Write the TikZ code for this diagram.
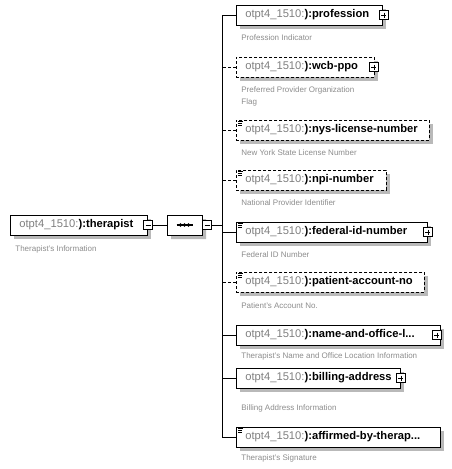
\documentclass[tikz,border=0pt]{standalone}
\usepackage{fontspec}
\setmainfont{Liberation Sans}
\usetikzlibrary{shapes.misc}
\definecolor{prefixgray}{RGB}{128,128,128}
\definecolor{descgray}{RGB}{140,140,140}
\definecolor{shadowgray}{RGB}{185,185,185}
\newcommand{\elname}[1]{\mbox{{\color{prefixgray}otpt4\_1510:}\textbf{):#1}}}

\begin{document}
\begin{tikzpicture}[x=1pt,y=-1pt,line width=0.8pt]
        %
        % `element' is a box of the schema, `optional' the dashed one.
        % `toggle' is the small plus/minus box, `desc' the grey note.
        % `shadowbox' is the grey copy that lies under a box.
        \tikzstyle{element} = [draw,fill=white,anchor=west,align=left,minimum height=20pt,inner xsep=9pt,inner ysep=0pt,font=\fontsize{11.2}{13}\selectfont]
        \tikzstyle{optional} = [element,dash pattern=on 3pt off 2pt]
        \tikzstyle{shadowbox} = [anchor=west,minimum height=20pt,inner xsep=9pt,inner ysep=0pt,font=\fontsize{11.2}{13}\selectfont,fill=shadowgray]
        \tikzstyle{typed} = [path picture={\draw[solid,line width=0.6pt] ([xshift=2pt,yshift=-1.5pt]path picture bounding box.north west) -- ++(5pt,0pt) ([xshift=2pt,yshift=-3.3pt]path picture bounding box.north west) -- ++(4pt,0pt) ([xshift=2pt,yshift=-5.1pt]path picture bounding box.north west) -- ++(4pt,0pt);}]
        \tikzstyle{toggle} = [draw,solid,fill=white,minimum size=9pt,inner sep=0pt,line width=0.6pt]
        \tikzstyle{expand} = [toggle,path picture={\draw[line width=0.6pt] ([xshift=2pt]path picture bounding box.west) -- ([xshift=-2pt]path picture bounding box.east) ([yshift=-2pt]path picture bounding box.north) -- ([yshift=2pt]path picture bounding box.south);}]
        \tikzstyle{collapse} = [toggle,path picture={\draw[line width=0.6pt] ([xshift=2pt]path picture bounding box.west) -- ([xshift=-2pt]path picture bounding box.east);}]
        \tikzstyle{desc} = [anchor=west,align=left,inner sep=0pt,text=descgray,font=\fontsize{8}{12}\selectfont]
        \tikzstyle{sequence} = [draw,fill=white,chamfered rectangle,chamfered rectangle sep=5pt,minimum width=35pt,minimum height=20pt,inner sep=0pt]
        %
        \useasboundingbox (0,0) rectangle (452,469);
        %
        % Shadows (drawn first)
        \node[shadowbox,text width=119pt] (rootshadow) at (14,229) {\phantom{\elname{therapist}}};
        \node[sequence,draw=none,fill=shadowgray] (seqshadow) at (188.5,229) {};
        \node[shadowbox,text width=128pt] (el1shadow) at (240,19) {\phantom{\elname{profession}}};
        \node[shadowbox,text width=120pt] (el2shadow) at (240,71) {\phantom{\elname{wcb-ppo}}};
        \node[shadowbox,text width=175pt] (el3shadow) at (240,134) {\phantom{\elname{nys-license-number}}};
        \node[shadowbox,text width=132pt] (el4shadow) at (240,184) {\phantom{\elname{npi-number}}};
        \node[shadowbox,text width=173pt] (el5shadow) at (240,236) {\phantom{\elname{federal-id-number}}};
        \node[shadowbox,text width=170pt] (el6shadow) at (240,286) {\phantom{\elname{patient-account-no}}};
        \node[shadowbox,text width=186pt] (el7shadow) at (240,339) {\phantom{\elname{name-and-office-l...}}};
        \node[shadowbox,text width=146pt] (el8shadow) at (240,382) {\phantom{\elname{billing-address}}};
        \node[shadowbox,text width=186pt] (el9shadow) at (240,441) {\phantom{\elname{affirmed-by-therap...}}};
        %
        % Root element
        \node[element,text width=119pt] (root) at (10,225) {\elname{therapist}};
        \node[collapse] (rootmin) at (148,225) {};
        \node[desc] (rootdesc) at (15,249) {Therapist's Information};
        %
        % Sequence
        \node[sequence] (seq) at (184.5,225) {};
        \draw (rootmin) -- (seq);
        \draw[line width=1.2pt] ([xshift=-8pt]seq.center) -- ([xshift=8pt]seq.center);
        \foreach \dx in {-4,0,4}
            \fill ([xshift=\dx pt]seq.center) circle (1.8pt);
        \node[collapse] (seqmin) at (207,225) {};
        \coordinate (seqout) at (222,225);
        \draw (seqmin) -- (seqout);
        %
        % Children
        \node[element,text width=128pt] (el1) at (236,15) {\elname{profession}};
        \node[expand] at ([xshift=1pt]el1.east) {};
        \node[desc] (desc1) at (241,38) {Profession Indicator};
        %
        \node[optional,text width=120pt] (el2) at (236,67) {\elname{wcb-ppo}};
        \node[expand] at ([xshift=-1pt]el2.east) {};
        \node[desc] (desc2) at (241,96) {Preferred Provider Organization\\Flag};
        %
        \node[optional,typed,text width=175pt] (el3) at (236,130) {\elname{nys-license-number}};
        \node[desc] (desc3) at (241,153) {New York State License Number};
        %
        \node[optional,typed,text width=132pt] (el4) at (236,180) {\elname{npi-number}};
        \node[desc] (desc4) at (241,203) {National Provider Identifier};
        %
        \node[element,typed,text width=173pt] (el5) at (236,232) {\elname{federal-id-number}};
        \node[expand] at ([xshift=0pt]el5.east) {};
        \node[desc] (desc5) at (241,255) {Federal ID Number};
        %
        \node[optional,typed,text width=170pt] (el6) at (236,282) {\elname{patient-account-no}};
        \node[desc] (desc6) at (241,306) {Patient's Account No.};
        %
        \node[element,text width=186pt] (el7) at (236,335) {\elname{name-and-office-l...}};
        \node[expand] at ([xshift=-4pt]el7.east) {};
        \node[desc] (desc7) at (241,356) {Therapist's Name and Office Location Information};
        %
        \node[element,text width=146pt] (el8) at (236,378) {\elname{billing-address}};
        \node[expand] at ([xshift=0pt]el8.east) {};
        \node[desc] (desc8) at (241,408) {Billing Address Information};
        %
        \node[element,typed,text width=186pt] (el9) at (236,437) {\elname{affirmed-by-therap...}};
        \node[desc] (desc9) at (241,458) {Therapist's Signature};
        %
        % Connectors
        \draw (el1.west -| seqout) -- (el9.west -| seqout);
        \foreach \n in {1,5,7,8,9}
            \draw (el\n.west) -- (el\n.west -| seqout);
        \foreach \n in {2,3,4,6}
            \draw[dash pattern=on 3pt off 2pt] (el\n.west) -- (el\n.west -| seqout);
        %
\end{tikzpicture}
\end{document}
